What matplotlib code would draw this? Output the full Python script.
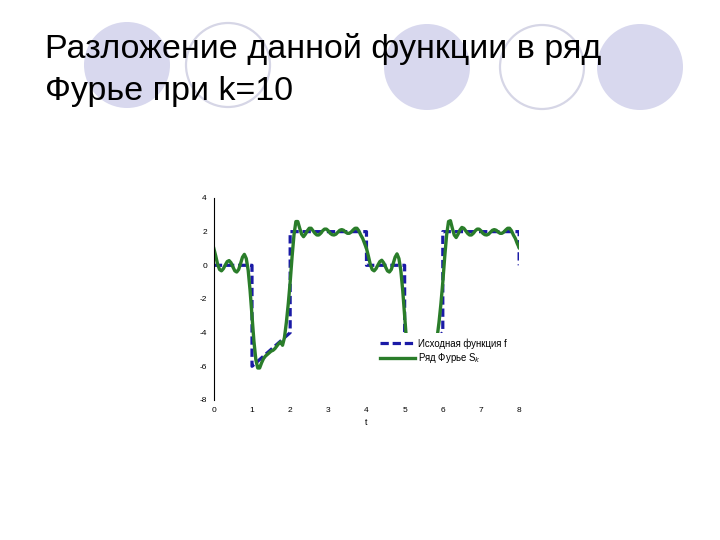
import matplotlib.pyplot as plt
from matplotlib.patches import Circle
from matplotlib.lines import Line2D

plt.rcParams['font.family'] = ['Liberation Sans', 'DejaVu Sans']
plt.rcParams['axes.unicode_minus'] = False

title_lines = ['Разложение данной функции в ряд', 'Фурье при k=10']

# исходная функция f (вершины ломаной)
f_t = [0, 1, 1, 2, 2, 4, 4, 5, 5, 6, 6, 8, 8]
f_y = [0, 0, -6, -4, 2, 2, 0, 0, -6, -4, 2, 2, 0]

# ряд Фурье S_k
s_t = [0.00, 0.05, 0.10, 0.15, 0.20, 0.25, 0.30, 0.35, 0.40, 0.45,
       0.50, 0.55, 0.60, 0.65, 0.70, 0.75, 0.80, 0.85, 0.90, 0.95,
       1.00, 1.05, 1.10, 1.15, 1.20, 1.25, 1.30, 1.35, 1.40, 1.45,
       1.50, 1.55, 1.60, 1.65, 1.70, 1.75, 1.80, 1.85, 1.90, 1.95,
       2.00, 2.05, 2.10, 2.15, 2.20, 2.25, 2.30, 2.35, 2.40, 2.45,
       2.50, 2.55, 2.60, 2.65, 2.70, 2.75, 2.80, 2.85, 2.90, 2.95,
       3.00, 3.05, 3.10, 3.15, 3.20, 3.25, 3.30, 3.35, 3.40, 3.45,
       3.50, 3.55, 3.60, 3.65, 3.70, 3.75, 3.80, 3.85, 3.90, 3.95,
       4.00, 4.05, 4.10, 4.15, 4.20, 4.25, 4.30, 4.35, 4.40, 4.45,
       4.50, 4.55, 4.60, 4.65, 4.70, 4.75, 4.80, 4.85, 4.90, 4.95,
       5.00, 5.05, 5.10, 5.15, 5.20, 5.25, 5.30, 5.35, 5.40, 5.45,
       5.50, 5.55, 5.60, 5.65, 5.70, 5.75, 5.80, 5.85, 5.90, 5.95,
       6.00, 6.05, 6.10, 6.15, 6.20, 6.25, 6.30, 6.35, 6.40, 6.45,
       6.50, 6.55, 6.60, 6.65, 6.70, 6.75, 6.80, 6.85, 6.90, 6.95,
       7.00, 7.05, 7.10, 7.15, 7.20, 7.25, 7.30, 7.35, 7.40, 7.45,
       7.50, 7.55, 7.60, 7.65, 7.70, 7.75, 7.80, 7.85, 7.90, 7.95,
       8.00]
s_y = [1.00, 0.55, 0.05, -0.25, -0.33, -0.20, 0.02, 0.22, 0.28, 0.15,
       -0.10, -0.33, -0.40, -0.25, 0.10, 0.48, 0.65, 0.40, -0.30, -1.50,
       -3.00, -4.50, -5.60, -6.10, -6.10, -5.80, -5.55, -5.40, -5.30, -5.20,
       -5.10, -5.05, -4.95, -4.80, -4.65, -4.55, -4.75, -4.30, -3.40, -2.30,
       -1.00, 0.50, 1.80, 2.60, 2.60, 2.20, 1.85, 1.70, 1.85, 2.05,
       2.20, 2.20, 2.05, 1.90, 1.80, 1.80, 1.90, 2.05, 2.15, 2.15,
       2.05, 1.90, 1.82, 1.80, 1.85, 1.97, 2.08, 2.12, 2.08, 1.98,
       1.90, 1.90, 1.98, 2.10, 2.20, 2.20, 2.05, 1.80, 1.60, 1.30,
       1.00, 0.55, 0.05, -0.25, -0.33, -0.20, 0.02, 0.22, 0.30, 0.15,
       -0.10, -0.33, -0.40, -0.25, 0.10, 0.48, 0.68, 0.40, -0.30, -1.50,
       -3.00, -4.50, -5.60, -6.10, -6.10, -5.80, -5.55, -5.40, -5.30, -5.20,
       -5.10, -5.05, -4.95, -4.80, -4.65, -4.55, -4.75, -4.30, -3.40, -2.30,
       -1.00, 0.50, 1.80, 2.60, 2.65, 2.20, 1.80, 1.65, 1.85, 2.10,
       2.25, 2.20, 2.05, 1.90, 1.80, 1.80, 1.90, 2.05, 2.15, 2.15,
       2.05, 1.90, 1.82, 1.80, 1.85, 1.97, 2.08, 2.12, 2.08, 1.98,
       1.90, 1.90, 1.98, 2.10, 2.20, 2.20, 2.05, 1.80, 1.60, 1.30,
       1.05]

x_ticks = [0, 1, 2, 3, 4, 5, 6, 7, 8]
y_ticks = [-8, -6, -4, -2, 0, 2, 4]
legend_labels = ['Исходная функция f', 'Ряд Фурье S$_k$']

fig = plt.figure(figsize=(7.2, 5.4), dpi=100)

# фон слайда: круги и заголовок
bg = fig.add_axes([0, 0, 1, 1], zorder=0)
bg.set_xlim(0, 720)
bg.set_ylim(540, 0)
bg.axis('off')
for cx, cy, filled in [(127, 65, True), (228, 65, False), (427, 67, True),
                       (542, 67, False), (640, 67, True)]:
    if filled:
        bg.add_patch(Circle((cx, cy), 43, facecolor='#d8d8ee', edgecolor='none'))
    else:
        bg.add_patch(Circle((cx, cy), 42, facecolor='white', edgecolor='#d6d6e6', lw=1.6))
bg.text(45, 58, title_lines[0], fontsize=24.5, va='baseline', ha='left', color='black')
bg.text(45, 100, title_lines[1], fontsize=24.5, va='baseline', ha='left', color='black')

ax = fig.add_axes([0.297, 0.2593, 0.424, 0.3741], zorder=1)
ax.patch.set_alpha(0)
l1, = ax.plot(f_t, f_y, color='#1a1aa6', lw=2.3, dashes=(2.6, 1.2))
l2, = ax.plot(s_t, s_y, color='#2a7d2a', lw=2.4)

ax.set_xlim(0, 8)
ax.set_ylim(-8, 4)
ax.set_xticks(x_ticks)
ax.set_yticks(y_ticks)
ax.tick_params(labelsize=6, length=0, pad=5)
for s in ['top', 'right', 'bottom']:
    ax.spines[s].set_visible(False)
ax.spines['left'].set_linewidth(0.8)
ax.set_xlabel('t', fontsize=6.5, labelpad=3)

# белое поле легенды закрывает кусок графика, как в оригинале
blank = Line2D([], [], linestyle='none')
leg = ax.legend(handles=[l1, l2, blank], labels=legend_labels + [''],
                loc='upper left', bbox_to_anchor=(0.53, 0.33), fontsize=6.9,
                frameon=True, framealpha=1, edgecolor='none', facecolor='white',
                fancybox=False, handlelength=3.6, borderpad=0.5, labelspacing=0.25,
                handletextpad=0.35, borderaxespad=0)

fig.savefig('out.png', dpi=100)
